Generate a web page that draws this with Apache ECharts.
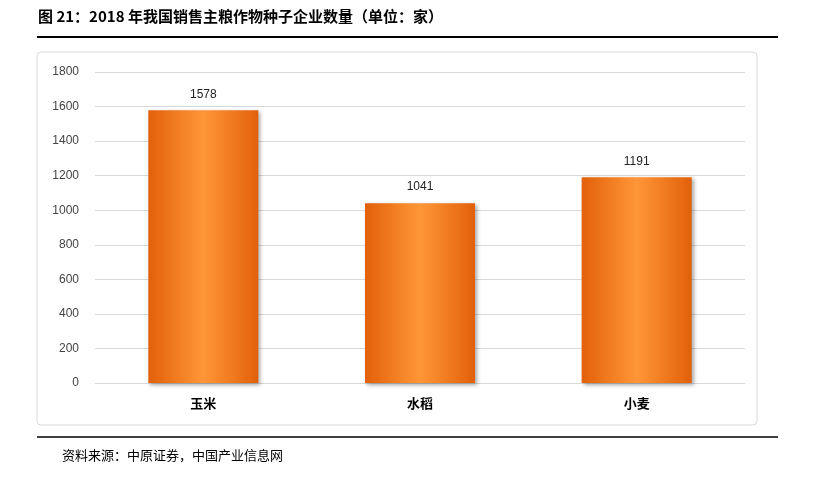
<!DOCTYPE html>
<html><head><meta charset="utf-8">
<script src="https://cdn.jsdelivr.net/npm/echarts@6/dist/echarts.min.js"></script>
<style>html,body{margin:0;padding:0;background:#fff}#c{width:815px;height:479px}</style>
</head><body><div id="c"></div>
<script>
const categories = ['玉米', '水稻', '小麦'];
const values = [1578, 1041, 1191];
const chart = echarts.init(document.getElementById('c'));
const grad = new echarts.graphic.LinearGradient(0, 0, 1, 0, [
  {offset: 0, color: '#E2600A'}, {offset: 0.5, color: '#FF9638'}, {offset: 1, color: '#E2600A'}
]);
chart.setOption({
  animation: false,
  graphic: [
    {type: 'text', left: 38, top: 9, style: {text: '图 21：2018 年我国销售主粮作物种子企业数量（单位：家）', font: 'bold 15px "Noto Sans CJK SC", sans-serif', fill: '#000'}},
    {type: 'line', shape: {x1: 37, y1: 37, x2: 778, y2: 37}, style: {stroke: '#000', lineWidth: 2}},
    {type: 'rect', shape: {x: 37, y: 52, width: 720, height: 373, r: 4}, style: {fill: 'none', stroke: '#d9d9d9', lineWidth: 1}},
    {type: 'line', shape: {x1: 37, y1: 437, x2: 778, y2: 437}, style: {stroke: '#000', lineWidth: 1.5}},
    {type: 'text', left: 62, top: 449, style: {text: '资料来源：中原证券，中国产业信息网', font: '13px "Noto Sans CJK SC", sans-serif', fill: '#000'}}
  ],
  grid: {left: 95, right: 70, top: 72, bottom: 96},
  xAxis: {type: 'category', data: categories,
    axisLine: {lineStyle: {color: '#d9d9d9'}}, axisTick: {show: false},
    axisLabel: {color: '#000', fontWeight: 'bold', fontSize: 13, margin: 14, fontFamily: '"Noto Sans CJK SC", sans-serif'}},
  yAxis: {type: 'value', min: 0, max: 1800, interval: 200,
    axisLine: {show: false}, axisTick: {show: false},
    axisLabel: {color: '#444', fontSize: 12, margin: 16, formatter: v => String(v)},
    splitLine: {lineStyle: {color: '#d9d9d9'}}},
  series: [{type: 'bar', data: values, barWidth: 110,
    itemStyle: {color: grad, shadowColor: 'rgba(0,0,0,0.35)', shadowBlur: 4, shadowOffsetX: 2, shadowOffsetY: 2},
    label: {show: true, position: 'top', distance: 10, color: '#222', fontSize: 12}}]
});
</script></body></html>
